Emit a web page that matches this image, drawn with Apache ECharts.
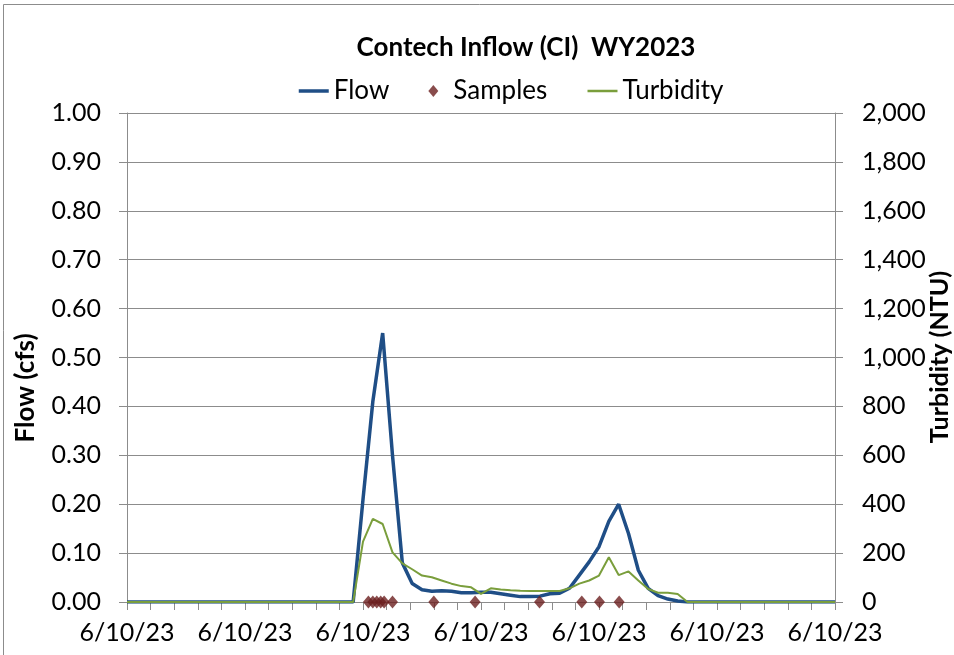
<!DOCTYPE html>
<html>
<head>
<meta charset="utf-8">
<script src="https://cdn.jsdelivr.net/npm/echarts@6/dist/echarts.min.js"></script>
<style>
  html, body { margin: 0; padding: 0; background: #fff; }
  #chart { width: 954px; height: 655px; }
</style>
</head>
<body>
<div id="chart"></div>
<script>
// minutes since midnight, one reading every 20 min
const times = [
  0, 20, 40, 60, 80, 100, 120, 140, 160, 180, 200, 220, 240, 260, 280, 300, 320, 340,
  360, 380, 400, 420, 440, 460, 480, 500, 520, 540, 560, 580, 600, 620, 640, 660, 680, 700,
  720, 740, 760, 780, 800, 820, 840, 860, 880, 900, 920, 940, 960, 980, 1000, 1020, 1040, 1060,
  1080, 1100, 1120, 1140, 1160, 1180, 1200, 1220, 1240, 1260, 1280, 1300, 1320, 1340, 1360, 1380,
  1400, 1420, 1440
];

const flow = [
  0, 0, 0, 0, 0, 0, 0, 0, 0, 0, 0, 0, 0, 0, 0, 0, 0, 0, 0, 0, 0, 0, 0, 0,
  0.21, 0.41, 0.55, 0.30, 0.08, 0.038, 0.025, 0.022, 0.023, 0.022, 0.019, 0.019,
  0.02, 0.02, 0.017, 0.014, 0.011, 0.011, 0.012, 0.017, 0.018, 0.028, 0.055, 0.082,
  0.113, 0.165, 0.20, 0.14, 0.065, 0.028, 0.013, 0.006, 0.002,
  0, 0, 0, 0, 0, 0, 0, 0, 0, 0, 0, 0, 0, 0, 0, 0
];

const turbidity = [
  0, 0, 0, 0, 0, 0, 0, 0, 0, 0, 0, 0, 0, 0, 0, 0, 0, 0, 0, 0, 0, 0, 0, 0,
  247, 340, 319, 203, 158, 134, 108, 101, 88, 75, 65, 60,
  33, 56, 51, 48, 46, 45, 45, 45, 45, 56, 75, 88,
  108, 183, 110, 125, 88, 53, 38, 38, 33,
  0, 0, 0, 0, 0, 0, 0, 0, 0, 0, 0, 0, 0, 0, 0, 0
];

const sampleTimes = [491, 500, 508, 516, 523, 540, 624, 708, 839, 925, 961, 1001];
const sampleValues = [0, 0, 0, 0, 0, 0, 0, 0, 0, 0, 0, 0];

const dateLabel = '6/10/23';

const chart = echarts.init(document.getElementById('chart'), null, { renderer: 'canvas' });

const FONT = 'Lato, "Open Sans", sans-serif';
const axisGray = '#8c8c8c';

const zip = (xs, ys) => xs.map((x, i) => [x, ys[i]]);

// hide the round marker the line legend icon would otherwise get
const noMarker = { opacity: 0 };

const option = {
  animation: false,
  backgroundColor: '#fff',
  textStyle: { fontFamily: FONT, color: '#000' },
  title: {
    text: 'Contech Inflow (CI)  WY2023',
    left: 521,
    top: 30,
    textAlign: 'center',
    textStyle: { fontFamily: FONT, fontSize: 26, fontWeight: 'bold', color: '#000' }
  },
  legend: {
    left: 292,
    top: 73,
    itemGap: 39,
    itemWidth: 30,
    itemHeight: 12,
    symbolKeepAspect: true,
    textStyle: { fontFamily: FONT, fontSize: 26, color: '#000' },
    data: [
      { name: 'Flow', itemStyle: noMarker, lineStyle: { width: 3.5 } },
      { name: 'Samples', icon: 'path://M5,0 L10,6 L5,12 L0,6 Z' },
      { name: 'Turbidity', itemStyle: noMarker, lineStyle: { width: 2.5 } }
    ]
  },
  grid: { left: 127, right: 119, top: 113, bottom: 53 },
  xAxis: {
    type: 'value',
    min: 0,
    max: 1440,
    interval: 48,
    axisLine: { lineStyle: { color: axisGray, width: 1 } },
    axisTick: { show: true, length: 8, lineStyle: { color: axisGray } },
    splitLine: { show: false },
    axisLabel: {
      margin: 18,
      fontFamily: FONT,
      fontSize: 25,
      color: '#000',
      showMinLabel: true,
      showMaxLabel: true,
      formatter: v => (Math.round(v) % 240 === 0 ? dateLabel : '')
    }
  },
  yAxis: [
    {
      type: 'value',
      min: 0,
      max: 1,
      interval: 0.1,
      position: 'left',
      axisLine: { show: true, lineStyle: { color: axisGray } },
      axisTick: { show: true, length: 8, lineStyle: { color: axisGray } },
      splitLine: { show: true, lineStyle: { color: axisGray, width: 1 } },
      axisLabel: {
        margin: 26,
        fontFamily: FONT,
        fontSize: 25,
        color: '#000',
        formatter: v => v.toFixed(2)
      }
    },
    {
      type: 'value',
      min: 0,
      max: 2000,
      interval: 200,
      position: 'right',
      axisLine: { show: true, lineStyle: { color: axisGray } },
      axisTick: { show: true, length: 8, lineStyle: { color: axisGray } },
      splitLine: { show: false },
      axisLabel: {
        margin: 27,
        fontFamily: FONT,
        fontSize: 25,
        color: '#000',
        formatter: v => v.toLocaleString('en-US')
      }
    }
  ],
  graphic: [
    {
      type: 'rect',
      silent: true,
      shape: { x: 3.5, y: 4.5, width: 1000, height: 1000 },
      style: { fill: 'none', stroke: axisGray, lineWidth: 1 }
    },
    {
      type: 'text',
      x: 26,
      y: 388,
      rotation: Math.PI / 2,
      style: {
        text: 'Flow (cfs)',
        fontFamily: FONT,
        fontSize: 26,
        fontWeight: 'bold',
        fill: '#000',
        align: 'center',
        verticalAlign: 'middle'
      }
    },
    {
      type: 'text',
      x: 940,
      y: 357,
      rotation: Math.PI / 2,
      style: {
        text: 'Turbidity (NTU)',
        fontFamily: FONT,
        fontSize: 25,
        fontWeight: 'bold',
        fill: '#000',
        align: 'center',
        verticalAlign: 'middle'
      }
    }
  ],
  series: [
    {
      name: 'Flow',
      type: 'line',
      yAxisIndex: 0,
      data: zip(times, flow),
      symbol: 'none',
      lineStyle: { color: '#1F4E86', width: 3.5 },
      itemStyle: { color: '#1F4E86' },
      z: 2
    },
    {
      name: 'Turbidity',
      type: 'line',
      yAxisIndex: 1,
      data: zip(times, turbidity),
      symbol: 'none',
      lineStyle: { color: '#7A9E3C', width: 2 },
      itemStyle: { color: '#7A9E3C' },
      z: 3
    },
    {
      name: 'Samples',
      type: 'scatter',
      yAxisIndex: 0,
      data: zip(sampleTimes, sampleValues),
      symbol: 'diamond',
      symbolSize: [11, 13],
      itemStyle: { color: '#6B1F1F' },
      z: 4
    }
  ]
};

chart.setOption(option);
</script>
</body>
</html>
